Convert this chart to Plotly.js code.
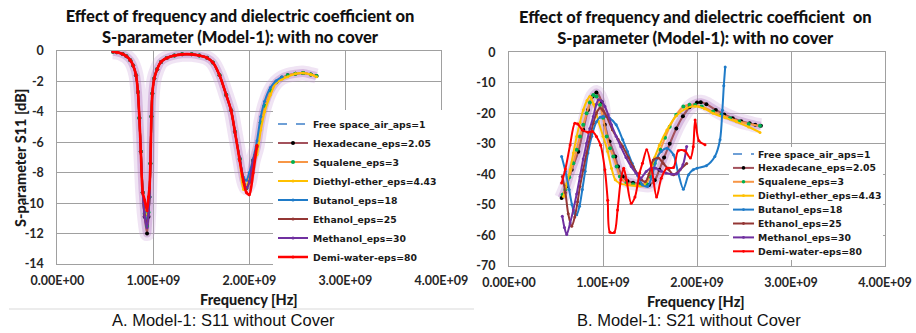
<!DOCTYPE html>
<html><head><meta charset="utf-8">
<script src="https://cdn.plot.ly/plotly-3.0.1.min.js"></script>
<style>html,body{margin:0;padding:0;background:#fff;}#chart{width:916px;height:333px;}</style>
</head><body><div id="chart"></div>
<script>
// ---------- names and tick labels ----------
const seriesNames = ['Free space_air_aps=1','Hexadecane_eps=2.05','Squalene_eps=3','Diethyl-ether_eps=4.43','Butanol_eps=18','Ethanol_eps=25','Methanol_eps=30','Demi-water-eps=80'];
const xTickVals = [0, 1e9, 2e9, 3e9, 4e9];
const xTickText = ['0.00E+00','1.00E+09','2.00E+09','3.00E+09','4.00E+09'];
const y11TickVals = [0,-2,-4,-6,-8,-10,-12,-14];
const y11TickText = ['0','-2','-4','-6','-8','-10','-12','-14'];
const y21TickVals = [0,-10,-20,-30,-40,-50,-60,-70];
const y21TickText = ['0','-10','-20','-30','-40','-50','-60','-70'];

// ---------- S11 (frequency in GHz, values in dB) ----------
const fS11 = [0.58,0.62,0.68,0.72,0.76,0.79,0.82,0.84,0.855,0.87,0.89,0.91,0.935,0.95,0.96,0.97,0.98,0.99,1.01,1.04,1.08,1.14,1.22,1.30,1.40,1.48,1.56,1.62,1.69,1.76,1.81,1.85,1.90,1.94,1.97,2.00,2.04,2.08,2.12,2.16,2.22,2.28,2.34,2.40,2.48,2.56,2.64,2.70];
const s11Free  = [-0.05,-0.08,-0.2,-0.35,-0.6,-0.95,-1.6,-2.7,-4.4,-6.6,-9.3,-10.8,-11.8,-10.8,-9.6,-7.4,-4.3,-2.8,-1.8,-1.2,-0.72,-0.46,-0.3,-0.22,-0.22,-0.3,-0.45,-0.75,-1.6,-2.9,-3.9,-5.3,-7.1,-8.5,-9.0,-8.6,-7.2,-6.3,-4.7,-3.6,-2.6,-2.05,-1.75,-1.6,-1.5,-1.45,-1.55,-1.65];
const s11Hexa  = [-0.05,-0.08,-0.2,-0.35,-0.6,-0.95,-1.6,-2.7,-4.4,-6.6,-9.3,-10.9,-12.0,-10.9,-9.6,-7.4,-4.3,-2.8,-1.8,-1.2,-0.72,-0.46,-0.3,-0.22,-0.22,-0.3,-0.45,-0.75,-1.6,-2.9,-3.9,-5.3,-7.1,-8.5,-9.0,-8.6,-7.2,-6.3,-4.7,-3.6,-2.6,-2.05,-1.75,-1.6,-1.5,-1.45,-1.55,-1.65];
const s11Squa  = [-0.05,-0.08,-0.2,-0.35,-0.6,-0.95,-1.6,-2.7,-4.4,-6.6,-9.3,-10.7,-11.5,-10.6,-9.6,-7.4,-4.3,-2.8,-1.8,-1.2,-0.72,-0.46,-0.3,-0.22,-0.22,-0.3,-0.45,-0.75,-1.6,-2.9,-3.9,-5.3,-7.1,-8.5,-9.0,-8.6,-7.2,-6.3,-4.7,-3.6,-2.6,-2.05,-1.75,-1.6,-1.5,-1.45,-1.55,-1.65];
const s11Dieth = [-0.05,-0.08,-0.2,-0.35,-0.6,-0.95,-1.6,-2.7,-4.4,-6.6,-9.3,-10.4,-11.0,-10.3,-9.6,-7.4,-4.3,-2.8,-1.8,-1.2,-0.72,-0.46,-0.3,-0.22,-0.22,-0.3,-0.45,-0.75,-1.6,-2.9,-3.9,-5.3,-7.2,-9.1,-8.9,-8.3,-7.4,-6.8,-5.2,-4.0,-2.9,-2.1,-1.85,-1.7,-1.5,-1.45,-1.55,-1.7];
const s11Buta  = [-0.05,-0.08,-0.2,-0.35,-0.6,-0.95,-1.6,-2.7,-4.4,-6.6,-9.3,-10.6,-11.2,-10.5,-9.6,-7.4,-4.3,-2.8,-1.8,-1.2,-0.72,-0.46,-0.3,-0.22,-0.22,-0.3,-0.45,-0.75,-1.6,-2.9,-3.9,-5.3,-7.0,-8.3,-8.5,-8.0,-7.1,-5.9,-4.3,-3.3,-2.4,-1.95,-1.7];
const s11Etha  = [-0.05,-0.08,-0.2,-0.35,-0.6,-0.95,-1.6,-2.7,-4.4,-6.6,-9.3,-10.8,-11.4,-10.7,-9.6,-7.4,-4.3,-2.8,-1.8,-1.2,-0.72,-0.46,-0.3,-0.22,-0.22,-0.3,-0.45,-0.75,-1.6,-2.9,-3.9,-5.3,-7.1,-8.5,-9.0,-8.6,-7.2,-6.3];
const s11Meth  = [-0.05,-0.08,-0.2,-0.35,-0.6,-0.95,-1.6,-2.7,-4.4,-6.6,-9.3,-10.9,-11.6,-10.8,-9.6,-7.4,-4.3,-2.8,-1.8,-1.2,-0.72,-0.46,-0.3,-0.22,-0.22,-0.3,-0.45,-0.75,-1.6,-2.9,-3.9,-5.3,-7.1,-8.5,-9.0,-8.6,-7.2,-6.3];
const s11Demi  = [-0.05,-0.08,-0.2,-0.35,-0.6,-0.95,-1.6,-2.7,-4.4,-6.6,-9.3,-9.8,-10.5,-9.6,-9.0,-7.4,-4.3,-2.8,-1.8,-1.2,-0.72,-0.46,-0.3,-0.22,-0.22,-0.3,-0.45,-0.75,-1.6,-2.9,-3.9,-5.3,-7.2,-8.6,-9.3,-9.45,-8.0,-6.2];

// ---------- S21 (frequency in GHz, values in dB) ----------
const fS21Hexa = [0.56,0.61,0.667,0.737,0.79,0.84,0.89,0.93,0.985,1.02,1.07,1.13,1.16,1.21,1.26,1.32,1.40,1.49,1.55,1.60,1.65,1.71,1.78,1.85,1.92,2.00,2.04,2.10,2.20,2.29,2.38,2.47,2.56,2.62,2.68];
const s21Hexa  = [-47.8,-44,-38.5,-32.6,-25.4,-18.9,-14.5,-13.2,-16.2,-23.8,-29.3,-34.2,-37.5,-40.7,-42.2,-42.8,-43.2,-43.5,-42,-38.5,-34.5,-30,-25,-21,-18,-16.5,-16.4,-17.0,-18.9,-20.4,-21.6,-22.6,-23.3,-23.8,-24.1];
const s21Free  = [-47.5,-43.8,-38.3,-32.4,-25.3,-18.9,-14.6,-13.4,-16.3,-23.7,-29.2,-34.1,-37.4,-40.6,-42.2,-42.8,-43.2,-43.4,-42,-38.6,-34.6,-30.1,-25.1,-21.1,-18.1,-16.6,-16.5,-17.1,-18.9,-20.4,-21.6,-22.6,-23.3,-23.8,-24.1];
const fS21Squa = [0.57,0.60,0.64,0.684,0.72,0.755,0.79,0.826,0.86,0.897,0.93,0.968,1.0,1.04,1.075,1.11,1.145,1.18,1.25,1.32,1.40,1.46,1.50,1.55,1.61,1.66,1.71,1.78,1.855,1.92,1.98,2.05,2.17,2.26,2.35,2.45,2.55,2.67];
const s21Squa  = [-46.7,-45,-41,-36.4,-32,-27.6,-23.8,-20,-16.5,-14,-14.5,-17.3,-21.5,-27.6,-31.5,-34.2,-37.5,-40.7,-42.9,-43.3,-43.5,-43,-40.7,-36.5,-32,-28,-24.4,-20.5,-17.8,-17.2,-17.3,-17.8,-19.4,-20.5,-21.6,-22.7,-23.5,-24.1];
const fS21Dieth = [0.58,0.615,0.65,0.685,0.72,0.755,0.79,0.83,0.86,0.90,0.95,1.0,1.05,1.09,1.13,1.18,1.25,1.35,1.43,1.46,1.49,1.52,1.55,1.60,1.68,1.78,1.89,1.98,2.08,2.17,2.30,2.42,2.55,2.67];
const s21Dieth  = [-47.3,-43,-38.5,-33,-27.6,-23,-18.9,-15.8,-14.5,-17,-22.5,-27.5,-32.5,-38,-41.8,-43,-43.5,-43.8,-43.8,-42.5,-40,-37,-34.5,-30.5,-25.5,-20.8,-18.3,-17.7,-18.5,-20,-21.5,-22.8,-24.5,-26.3];
const fS21Buta = [0.56,0.6,0.64,0.67,0.70,0.72,0.75,0.78,0.81,0.84,0.88,0.93,0.97,1.0,1.07,1.14,1.21,1.26,1.31,1.37,1.42,1.475,1.53,1.57,1.62,1.68,1.75,1.80,1.855,1.91,1.96,2.0,2.1,2.19,2.245,2.27,2.285,2.30];
const s21Buta  = [-34.2,-39,-45,-50,-53,-53.3,-50.5,-45,-39,-33,-27.5,-22.8,-21.3,-21.1,-21.6,-23.8,-28.7,-32.5,-36.4,-40.5,-43.5,-44,-39.6,-35,-32.5,-31.5,-33.6,-39.6,-44.9,-40.2,-38.5,-38,-37.2,-34.2,-28.7,-19,-11,-4.8];
const fS21Etha = [0.567,0.6,0.63,0.667,0.70,0.73,0.755,0.79,0.826,0.86,0.897,0.93,0.968,1.0,1.04,1.10,1.16,1.21,1.27,1.32,1.37,1.41,1.45,1.49,1.535,1.59,1.64,1.70,1.75,1.82,1.89];
const s21Etha  = [-40.7,-46,-53,-57.1,-54,-49,-44,-38.5,-33,-28,-23.3,-20,-18.3,-19,-21.1,-25.4,-28.5,-30.9,-34.5,-37.5,-40,-41.8,-42.5,-40,-35.3,-34.7,-36.4,-38.5,-40.2,-38.5,-36.5];
const fS21Meth = [0.567,0.59,0.614,0.65,0.684,0.72,0.755,0.79,0.826,0.86,0.897,0.93,0.95,0.985,1.02,1.055,1.09,1.14,1.19,1.245,1.30,1.35,1.40,1.46,1.51,1.56,1.62,1.67,1.73,1.78,1.85,1.89];
const s21Meth  = [-53.8,-57.5,-59.8,-56,-51.7,-46.5,-40.7,-35,-29.8,-25,-21.1,-17,-15.6,-16,-17.8,-20.5,-23.8,-27.5,-31,-34.5,-37.5,-39.6,-41.3,-39.1,-38,-38,-39,-39.6,-40,-39.9,-36.9,-30.9];
const fS21Demi = [0.56,0.60,0.65,0.70,0.73,0.78,0.84,0.89,0.93,0.975,1.02,1.05,1.074,1.12,1.155,1.19,1.22,1.25,1.30,1.34,1.39,1.42,1.465,1.52,1.57,1.62,1.68,1.75,1.80,1.87,1.93,1.96,1.98,2.02,2.085];
const s21Demi  = [-42.9,-38.3,-30.4,-23.3,-23.5,-25.5,-26.2,-26,-27.6,-30.5,-38.5,-48.5,-59,-59.1,-51.7,-41.8,-38,-41.8,-49.5,-47.5,-39.5,-36.4,-32,-38.5,-47.5,-41.3,-38,-37.8,-32.3,-32.3,-34.7,-31,-22.2,-29,-30.3];

// ---------- styles ----------
const lineColors   = ['#6E9FD6','#A3525C','#F79646','#FFC000','#1F7BC8','#943634','#7030A0','#FF0000'];
const markerColors = ['#6E9FD6','#000000','#00B050','#FFC000','#1F7BC8','#943634','#7030A0','#FF0000'];
const headFont = 'Lato, "Open Sans", Arial, sans-serif';
const verdFont = '"DejaVu Sans", Verdana, sans-serif';
const hz = a => a.map(v => v * 1e9);

const s11X = [fS11, fS11, fS11, fS11, fS11.slice(0, s11Buta.length), fS11.slice(0, s11Etha.length), fS11.slice(0, s11Meth.length), fS11.slice(0, s11Demi.length)];
const s11Y = [s11Free, s11Hexa, s11Squa, s11Dieth, s11Buta, s11Etha, s11Meth, s11Demi];
const s21X = [fS21Hexa, fS21Hexa, fS21Squa, fS21Dieth, fS21Buta, fS21Etha, fS21Meth, fS21Demi];
const s21Y = [s21Free, s21Hexa, s21Squa, s21Dieth, s21Buta, s21Etha, s21Meth, s21Demi];

const traces = [];
function glow(x, y, xa, ya) {
  traces.push({x: hz(x), y: y, xaxis: xa, yaxis: ya, mode: 'lines', showlegend: false, hoverinfo: 'skip',
    line: {shape: 'spline', smoothing: 0.8, width: 15, color: 'rgba(205,165,220,0.30)'}});
  traces.push({x: hz(x), y: y, xaxis: xa, yaxis: ya, mode: 'lines', showlegend: false, hoverinfo: 'skip',
    line: {shape: 'spline', smoothing: 0.8, width: 8, color: 'rgba(165,100,185,0.32)'}});
}
glow(fS11, s11Hexa, 'x', 'y');
glow(fS21Hexa, s21Hexa, 'x2', 'y2');

function addSeries(i, x, y, xa, ya, legend) {
  const isFree = i === 0;
  const big = (i === 1 || i === 2);
  traces.push({
    x: hz(x), y: y, xaxis: xa, yaxis: ya, name: seriesNames[i], showlegend: legend,
    mode: isFree ? 'lines' : 'lines+markers',
    line: {shape: 'spline', smoothing: 0.8, width: (i === 7 && xa === 'x') ? 2.6 : 2, color: lineColors[i], dash: isFree ? 'dash' : 'solid'},
    marker: {size: big ? 4 : 3, color: markerColors[i]}
  });
}
for (let i = 0; i < 8; i++) addSeries(i, s11X[i], s11Y[i], 'x', 'y', true);
for (let i = 0; i < 8; i++) addSeries(i, s21X[i], s21Y[i], 'x2', 'y2', false);

// pixel helpers for layout placement
const W = 916, H = 333;
const px = v => v / W, py = v => 1 - v / H;

const gridCol = '#A0A0A0';
const tickFont = {family: headFont, size: 12.5, color: '#262626', weight: 700};
const axTitleFont = {family: headFont, size: 14.5, color: '#1a1a1a', weight: 900};
const legFont = {family: verdFont, size: 9.3, color: '#1a1a1a', weight: 700};
function xAxis(d0, d1, anchor) {
  return {domain: [px(d0), px(d1)], anchor: anchor, range: [0, 4e9], tickmode: 'array', tickvals: xTickVals, ticktext: xTickText,
    showgrid: true, gridcolor: gridCol, gridwidth: 1, showline: true, linecolor: gridCol, linewidth: 1, mirror: true,
    zeroline: false, ticks: '', ticklabelstandoff: 5, tickfont: tickFont, fixedrange: true};
}
function yAxis(d0, d1, anchor, r, tv, tt) {
  return {domain: [py(d1), py(d0)], anchor: anchor, range: r, tickmode: 'array', tickvals: tv, ticktext: tt,
    showgrid: true, gridcolor: gridCol, gridwidth: 1, showline: true, linecolor: gridCol, linewidth: 1, mirror: true,
    zeroline: false, ticks: '', ticklabelstandoff: 10, tickfont: tickFont, fixedrange: true};
}

const annotations = [
  {text: 'Effect of frequency and dielectric coefficient  on<br>S-parameter (Model-1): with no cover', xref: 'paper', yref: 'paper',
   x: px(695), y: py(27.5), xanchor: 'center', yanchor: 'middle', showarrow: false, font: {family: headFont, size: 16.5, color: '#111', weight: 900}},
  {text: 'Frequency [Hz]', xref: 'paper', yref: 'paper', x: px(249), y: py(299), xanchor: 'center', yanchor: 'middle', showarrow: false, font: axTitleFont},
  {text: 'Frequency [Hz]', xref: 'paper', yref: 'paper', x: px(696), y: py(301), xanchor: 'center', yanchor: 'middle', showarrow: false, font: axTitleFont},
  {text: 'S-parameter S11 [dB]', xref: 'paper', yref: 'paper', x: px(20), y: py(158), xanchor: 'center', yanchor: 'middle', textangle: -90, showarrow: false, font: {family: headFont, size: 14.5, color: '#1a1a1a', weight: 900}},
  {text: 'A. Model-1: S11 without Cover', xref: 'paper', yref: 'paper', x: px(223), y: py(320), xanchor: 'center', yanchor: 'middle', showarrow: false, font: {family: '"Liberation Sans", Arial, sans-serif', size: 16.5, color: '#111'}},
  {text: 'B. Model-1: S21 without Cover', xref: 'paper', yref: 'paper', x: px(689), y: py(320), xanchor: 'center', yanchor: 'middle', showarrow: false, font: {family: '"Liberation Sans", Arial, sans-serif', size: 16.5, color: '#111'}}
];
const shapes = [
  {type: 'line', xref: 'paper', yref: 'paper', x0: px(9), x1: px(474), y0: py(309), y1: py(309), line: {color: '#D9D9D9', width: 1}},
  {type: 'rect', xref: 'paper', yref: 'paper', x0: px(729), x1: px(883), y0: py(147), y1: py(260), fillcolor: '#ffffff', line: {width: 0}, layer: 'above'}
];
// manual legend for the S21 panel
for (let i = 0; i < 8; i++) {
  const yy = 154 + 13.9 * i;
  shapes.push({type: 'line', xref: 'paper', yref: 'paper', x0: px(733), x1: px(754), y0: py(yy), y1: py(yy), layer: 'above',
    line: {color: lineColors[i], width: 2, dash: i === 0 ? 'dash' : 'solid'}});
  if (i > 0) {
    const r = (i === 1 || i === 2) ? 1.8 : 1.4;
    shapes.push({type: 'circle', xref: 'paper', yref: 'paper', x0: px(743.5 - r), x1: px(743.5 + r), y0: py(yy + r), y1: py(yy - r), layer: 'above',
      fillcolor: markerColors[i], line: {width: 0}});
  }
  annotations.push({text: seriesNames[i], xref: 'paper', yref: 'paper', x: px(756), y: py(yy), xanchor: 'left', yanchor: 'middle', showarrow: false,
    font: legFont});
}

const layout = {
  width: W, height: H, margin: {l: 0, r: 0, t: 0, b: 0}, paper_bgcolor: '#fff', plot_bgcolor: '#fff',
  title: {text: 'Effect of frequency and dielectric coefficient on<br>S-parameter (Model-1): with no cover', x: px(240), xanchor: 'center', y: py(22), yanchor: 'middle',
    font: {family: headFont, size: 16.5, color: '#111', weight: 900}},
  xaxis: xAxis(57.3, 441.3, 'y'),
  yaxis: yAxis(51, 264, 'x', [-14, 0], y11TickVals, y11TickText),
  xaxis2: xAxis(509, 885, 'y2'),
  yaxis2: yAxis(52.3, 265.7, 'x2', [-70, 0], y21TickVals, y21TickText),
  legend: {x: px(273), xanchor: 'left', y: py(109.5), yanchor: 'top', bgcolor: '#ffffff', borderwidth: 0, tracegroupgap: 0,
    font: legFont},
  annotations: annotations, shapes: shapes, showlegend: true
};
Plotly.newPlot('chart', traces, layout, {displayModeBar: false, staticPlot: true});
</script></body></html>
